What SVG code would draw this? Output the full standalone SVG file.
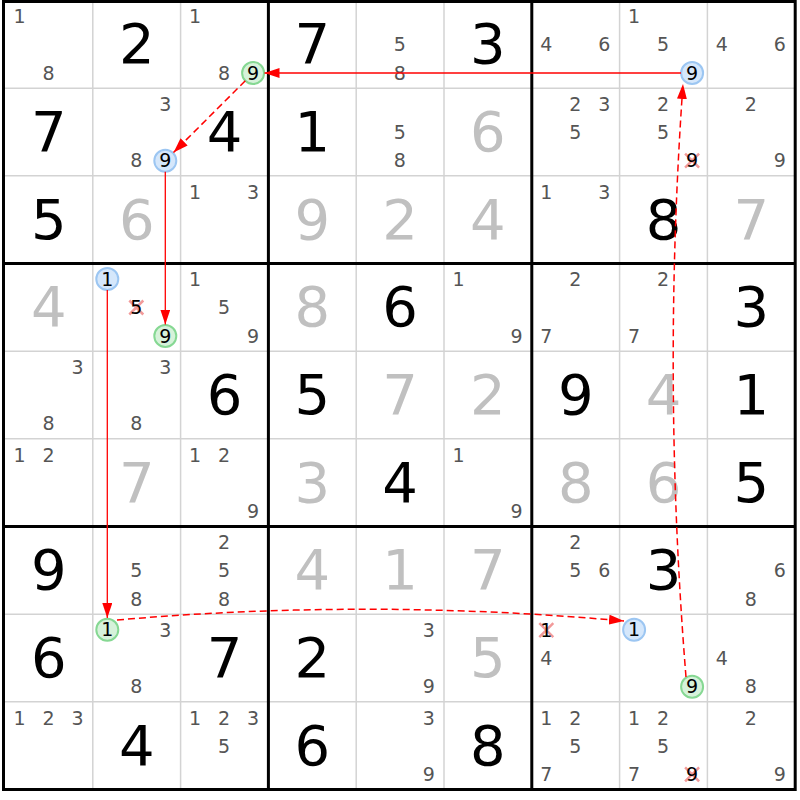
<svg xmlns="http://www.w3.org/2000/svg" width="800" height="800" viewBox="0 0 800 800">
<defs>
<style>
text{font-family:"DejaVu Sans","Verdana",sans-serif;text-anchor:middle}
.g{font-size:56px;fill:#000}
.s{font-size:56px;fill:#c0c0c0}
.c{font-size:19px;fill:#555}
.h{font-size:19px;fill:#000}
.cb{fill:#d5e7fb;stroke:#9cc6f2;stroke-width:2}
.cg{fill:#d6f2da;stroke:#86d893;stroke-width:2}
.x{stroke:#f29a9a;stroke-width:2.5;fill:none}
.thin{stroke:#d3d3d3;stroke-width:1.5}
.thick{stroke:#000;stroke-width:3}
.ln{stroke:#ff0000;stroke-width:1.3;fill:none}
.dl{stroke:#ff0000;stroke-width:1.5;fill:none;stroke-dasharray:7,4}
</style>
<marker id="ah" markerUnits="userSpaceOnUse" markerWidth="16" markerHeight="10" refX="15" refY="5" orient="auto">
<path d="M0,0 L15,5 L0,10 z" fill="#ff0000"/>
</marker>
</defs>
<rect x="0" y="0" width="800" height="800" fill="#fff"/>
<g id="grid">
<path class="thin" d="M92.8,0.5V789.5M180.6,0.5V789.5M356.2,0.5V789.5M444,0.5V789.5M619.6,0.5V789.5M707.4,0.5V789.5M5,88.2H795.2M5,175.8H795.2M5,351.2H795.2M5,438.8H795.2M5,614.2H795.2M5,701.8H795.2"/>
<path class="thick" d="M268.4,0.5V789.5M531.8,0.5V789.5M5,263.5H795.2M5,526.5H795.2"/>
<rect class="thick" x="3.5" y="1.5" width="791.7" height="788" fill="none"/>
</g>
<!-- Row 1 -->
<g id="r1c1" transform="translate(5,0.5)"><text class="c" x="14.5" y="22.8">1</text><text class="c" x="43.5" y="79.3">8</text></g>
<g id="r1c2" transform="translate(92.8,0.5)"><text class="g" x="43.9" y="62.8">2</text></g>
<g id="r1c3" transform="translate(180.6,0.5)"><text class="c" x="14.5" y="22.8">1</text><text class="c" x="43.5" y="79.3">8</text><circle class="cg" cx="72.5" cy="72.5" r="11"/><text class="h" x="72.5" y="79.3">9</text></g>
<g id="r1c4" transform="translate(268.4,0.5)"><text class="g" x="43.9" y="62.8">7</text></g>
<g id="r1c5" transform="translate(356.2,0.5)"><text class="c" x="43.5" y="50.8">5</text><text class="c" x="43.5" y="79.3">8</text></g>
<g id="r1c6" transform="translate(444,0.5)"><text class="g" x="43.9" y="62.8">3</text></g>
<g id="r1c7" transform="translate(531.8,0.5)"><text class="c" x="14.5" y="50.8">4</text><text class="c" x="72.5" y="50.8">6</text></g>
<g id="r1c8" transform="translate(619.6,0.5)"><text class="c" x="14.5" y="22.8">1</text><text class="c" x="43.5" y="50.8">5</text><circle class="cb" cx="72.5" cy="72.5" r="11"/><text class="h" x="72.5" y="79.3">9</text></g>
<g id="r1c9" transform="translate(707.4,0.5)"><text class="c" x="14.5" y="50.8">4</text><text class="c" x="72.5" y="50.8">6</text></g>
<!-- Row 2 -->
<g id="r2c1" transform="translate(5,88.2)"><text class="g" x="43.9" y="62.8">7</text></g>
<g id="r2c2" transform="translate(92.8,88.2)"><text class="c" x="72.5" y="22.8">3</text><text class="c" x="43.5" y="79.3">8</text><circle class="cb" cx="72.5" cy="72.5" r="11"/><text class="h" x="72.5" y="79.3">9</text></g>
<g id="r2c3" transform="translate(180.6,88.2)"><text class="g" x="43.9" y="62.8">4</text></g>
<g id="r2c4" transform="translate(268.4,88.2)"><text class="g" x="43.9" y="62.8">1</text></g>
<g id="r2c5" transform="translate(356.2,88.2)"><text class="c" x="43.5" y="50.8">5</text><text class="c" x="43.5" y="79.3">8</text></g>
<g id="r2c6" transform="translate(444,88.2)"><text class="s" x="43.9" y="62.8">6</text></g>
<g id="r2c7" transform="translate(531.8,88.2)"><text class="c" x="43.5" y="22.8">2</text><text class="c" x="72.5" y="22.8">3</text><text class="c" x="43.5" y="50.8">5</text></g>
<g id="r2c8" transform="translate(619.6,88.2)"><text class="c" x="43.5" y="22.8">2</text><text class="c" x="43.5" y="50.8">5</text><path class="x" d="M65.5,65.5L79.5,79.5M79.5,65.5L65.5,79.5"/><text class="h" x="72.5" y="79.3">9</text></g>
<g id="r2c9" transform="translate(707.4,88.2)"><text class="c" x="43.5" y="22.8">2</text><text class="c" x="72.5" y="79.3">9</text></g>
<!-- Row 3 -->
<g id="r3c1" transform="translate(5,175.8)"><text class="g" x="43.9" y="62.8">5</text></g>
<g id="r3c2" transform="translate(92.8,175.8)"><text class="s" x="43.9" y="62.8">6</text></g>
<g id="r3c3" transform="translate(180.6,175.8)"><text class="c" x="14.5" y="22.8">1</text><text class="c" x="72.5" y="22.8">3</text></g>
<g id="r3c4" transform="translate(268.4,175.8)"><text class="s" x="43.9" y="62.8">9</text></g>
<g id="r3c5" transform="translate(356.2,175.8)"><text class="s" x="43.9" y="62.8">2</text></g>
<g id="r3c6" transform="translate(444,175.8)"><text class="s" x="43.9" y="62.8">4</text></g>
<g id="r3c7" transform="translate(531.8,175.8)"><text class="c" x="14.5" y="22.8">1</text><text class="c" x="72.5" y="22.8">3</text></g>
<g id="r3c8" transform="translate(619.6,175.8)"><text class="g" x="43.9" y="62.8">8</text></g>
<g id="r3c9" transform="translate(707.4,175.8)"><text class="s" x="43.9" y="62.8">7</text></g>
<!-- Row 4 -->
<g id="r4c1" transform="translate(5,263.5)"><text class="s" x="43.9" y="62.8">4</text></g>
<g id="r4c2" transform="translate(92.8,263.5)"><circle class="cb" cx="14.5" cy="15.5" r="11"/><text class="h" x="14.5" y="22.3">1</text><path class="x" d="M36.5,37L50.5,51M50.5,37L36.5,51"/><text class="h" x="43.5" y="50.8">5</text><circle class="cg" cx="72.5" cy="72.5" r="11"/><text class="h" x="72.5" y="79.3">9</text></g>
<g id="r4c3" transform="translate(180.6,263.5)"><text class="c" x="14.5" y="22.8">1</text><text class="c" x="43.5" y="50.8">5</text><text class="c" x="72.5" y="79.3">9</text></g>
<g id="r4c4" transform="translate(268.4,263.5)"><text class="s" x="43.9" y="62.8">8</text></g>
<g id="r4c5" transform="translate(356.2,263.5)"><text class="g" x="43.9" y="62.8">6</text></g>
<g id="r4c6" transform="translate(444,263.5)"><text class="c" x="14.5" y="22.8">1</text><text class="c" x="72.5" y="79.3">9</text></g>
<g id="r4c7" transform="translate(531.8,263.5)"><text class="c" x="43.5" y="22.8">2</text><text class="c" x="14.5" y="79.3">7</text></g>
<g id="r4c8" transform="translate(619.6,263.5)"><text class="c" x="43.5" y="22.8">2</text><text class="c" x="14.5" y="79.3">7</text></g>
<g id="r4c9" transform="translate(707.4,263.5)"><text class="g" x="43.9" y="62.8">3</text></g>
<!-- Row 5 -->
<g id="r5c1" transform="translate(5,351.2)"><text class="c" x="72.5" y="22.8">3</text><text class="c" x="43.5" y="79.3">8</text></g>
<g id="r5c2" transform="translate(92.8,351.2)"><text class="c" x="72.5" y="22.8">3</text><text class="c" x="43.5" y="79.3">8</text></g>
<g id="r5c3" transform="translate(180.6,351.2)"><text class="g" x="43.9" y="62.8">6</text></g>
<g id="r5c4" transform="translate(268.4,351.2)"><text class="g" x="43.9" y="62.8">5</text></g>
<g id="r5c5" transform="translate(356.2,351.2)"><text class="s" x="43.9" y="62.8">7</text></g>
<g id="r5c6" transform="translate(444,351.2)"><text class="s" x="43.9" y="62.8">2</text></g>
<g id="r5c7" transform="translate(531.8,351.2)"><text class="g" x="43.9" y="62.8">9</text></g>
<g id="r5c8" transform="translate(619.6,351.2)"><text class="s" x="43.9" y="62.8">4</text></g>
<g id="r5c9" transform="translate(707.4,351.2)"><text class="g" x="43.9" y="62.8">1</text></g>
<!-- Row 6 -->
<g id="r6c1" transform="translate(5,438.8)"><text class="c" x="14.5" y="22.8">1</text><text class="c" x="43.5" y="22.8">2</text></g>
<g id="r6c2" transform="translate(92.8,438.8)"><text class="s" x="43.9" y="62.8">7</text></g>
<g id="r6c3" transform="translate(180.6,438.8)"><text class="c" x="14.5" y="22.8">1</text><text class="c" x="43.5" y="22.8">2</text><text class="c" x="72.5" y="79.3">9</text></g>
<g id="r6c4" transform="translate(268.4,438.8)"><text class="s" x="43.9" y="62.8">3</text></g>
<g id="r6c5" transform="translate(356.2,438.8)"><text class="g" x="43.9" y="62.8">4</text></g>
<g id="r6c6" transform="translate(444,438.8)"><text class="c" x="14.5" y="22.8">1</text><text class="c" x="72.5" y="79.3">9</text></g>
<g id="r6c7" transform="translate(531.8,438.8)"><text class="s" x="43.9" y="62.8">8</text></g>
<g id="r6c8" transform="translate(619.6,438.8)"><text class="s" x="43.9" y="62.8">6</text></g>
<g id="r6c9" transform="translate(707.4,438.8)"><text class="g" x="43.9" y="62.8">5</text></g>
<!-- Row 7 -->
<g id="r7c1" transform="translate(5,526.5)"><text class="g" x="43.9" y="62.8">9</text></g>
<g id="r7c2" transform="translate(92.8,526.5)"><text class="c" x="43.5" y="50.8">5</text><text class="c" x="43.5" y="79.3">8</text></g>
<g id="r7c3" transform="translate(180.6,526.5)"><text class="c" x="43.5" y="22.8">2</text><text class="c" x="43.5" y="50.8">5</text><text class="c" x="43.5" y="79.3">8</text></g>
<g id="r7c4" transform="translate(268.4,526.5)"><text class="s" x="43.9" y="62.8">4</text></g>
<g id="r7c5" transform="translate(356.2,526.5)"><text class="s" x="43.9" y="62.8">1</text></g>
<g id="r7c6" transform="translate(444,526.5)"><text class="s" x="43.9" y="62.8">7</text></g>
<g id="r7c7" transform="translate(531.8,526.5)"><text class="c" x="43.5" y="22.8">2</text><text class="c" x="43.5" y="50.8">5</text><text class="c" x="72.5" y="50.8">6</text></g>
<g id="r7c8" transform="translate(619.6,526.5)"><text class="g" x="43.9" y="62.8">3</text></g>
<g id="r7c9" transform="translate(707.4,526.5)"><text class="c" x="72.5" y="50.8">6</text><text class="c" x="43.5" y="79.3">8</text></g>
<!-- Row 8 -->
<g id="r8c1" transform="translate(5,614.2)"><text class="g" x="43.9" y="62.8">6</text></g>
<g id="r8c2" transform="translate(92.8,614.2)"><circle class="cg" cx="14.5" cy="15.5" r="11"/><text class="h" x="14.5" y="22.3">1</text><text class="c" x="72.5" y="22.8">3</text><text class="c" x="43.5" y="79.3">8</text></g>
<g id="r8c3" transform="translate(180.6,614.2)"><text class="g" x="43.9" y="62.8">7</text></g>
<g id="r8c4" transform="translate(268.4,614.2)"><text class="g" x="43.9" y="62.8">2</text></g>
<g id="r8c5" transform="translate(356.2,614.2)"><text class="c" x="72.5" y="22.8">3</text><text class="c" x="72.5" y="79.3">9</text></g>
<g id="r8c6" transform="translate(444,614.2)"><text class="s" x="43.9" y="62.8">5</text></g>
<g id="r8c7" transform="translate(531.8,614.2)"><path class="x" d="M7.5,9L21.5,23M21.5,9L7.5,23"/><text class="h" x="14.5" y="22.8">1</text><text class="c" x="14.5" y="50.8">4</text></g>
<g id="r8c8" transform="translate(619.6,614.2)"><circle class="cb" cx="14.5" cy="15.5" r="11"/><text class="h" x="14.5" y="22.3">1</text><circle class="cg" cx="72.5" cy="72.5" r="11"/><text class="h" x="72.5" y="79.3">9</text></g>
<g id="r8c9" transform="translate(707.4,614.2)"><text class="c" x="14.5" y="50.8">4</text><text class="c" x="43.5" y="79.3">8</text></g>
<!-- Row 9 -->
<g id="r9c1" transform="translate(5,701.8)"><text class="c" x="14.5" y="22.8">1</text><text class="c" x="43.5" y="22.8">2</text><text class="c" x="72.5" y="22.8">3</text></g>
<g id="r9c2" transform="translate(92.8,701.8)"><text class="g" x="43.9" y="62.8">4</text></g>
<g id="r9c3" transform="translate(180.6,701.8)"><text class="c" x="14.5" y="22.8">1</text><text class="c" x="43.5" y="22.8">2</text><text class="c" x="72.5" y="22.8">3</text><text class="c" x="43.5" y="50.8">5</text></g>
<g id="r9c4" transform="translate(268.4,701.8)"><text class="g" x="43.9" y="62.8">6</text></g>
<g id="r9c5" transform="translate(356.2,701.8)"><text class="c" x="72.5" y="22.8">3</text><text class="c" x="72.5" y="79.3">9</text></g>
<g id="r9c6" transform="translate(444,701.8)"><text class="g" x="43.9" y="62.8">8</text></g>
<g id="r9c7" transform="translate(531.8,701.8)"><text class="c" x="14.5" y="22.8">1</text><text class="c" x="43.5" y="22.8">2</text><text class="c" x="43.5" y="50.8">5</text><text class="c" x="14.5" y="79.3">7</text></g>
<g id="r9c8" transform="translate(619.6,701.8)"><text class="c" x="14.5" y="22.8">1</text><text class="c" x="43.5" y="22.8">2</text><text class="c" x="43.5" y="50.8">5</text><text class="c" x="14.5" y="79.3">7</text><path class="x" d="M65.5,65.5L79.5,79.5M79.5,65.5L65.5,79.5"/><text class="h" x="72.5" y="79.3">9</text></g>
<g id="r9c9" transform="translate(707.4,701.8)"><text class="c" x="43.5" y="22.8">2</text><text class="c" x="72.5" y="79.3">9</text></g>
<!-- Connectors -->
<g id="connectors">
<path class="ln" d="M681,73H264.5" marker-end="url(#ah)"/>
<path class="dl" d="M245.3,80.8L173.5,152.5" marker-end="url(#ah)"/>
<path class="ln" d="M165.3,171.7V324.5" marker-end="url(#ah)"/>
<path class="ln" d="M107.3,290V618" marker-end="url(#ah)"/>
<path class="dl" d="M117,620Q370,598 624,621" marker-end="url(#ah)"/>
<path class="dl" d="M686,677Q662,381 683,84" marker-end="url(#ah)"/>
</g>
</svg>
